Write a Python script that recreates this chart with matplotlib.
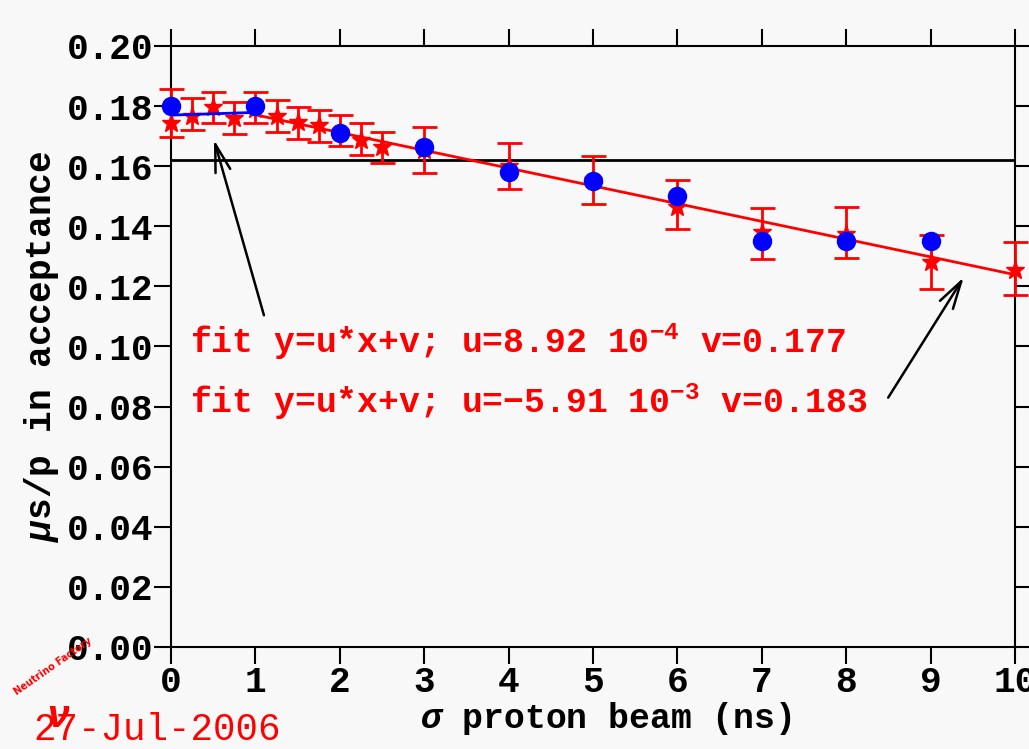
import matplotlib
matplotlib.use("Agg")
import matplotlib.pyplot as plt
import numpy as np

# blue points (circles)
blue_x = [0, 1, 2, 3, 4, 5, 6, 7, 8, 9]
blue_y = [0.180, 0.180, 0.171, 0.1665, 0.158, 0.155, 0.150, 0.135, 0.135, 0.135]

# red points (stars) with asymmetric errors
red_x = [0, 0.25, 0.5, 0.75, 1, 1.25, 1.5, 1.75, 2, 2.25, 2.5, 3, 4, 5, 6, 7, 8, 9, 10]
red_y = [0.1745, 0.1767, 0.1798, 0.1762, 0.1790, 0.1768, 0.1748, 0.1737, 0.1715,
         0.1687, 0.1665, 0.1655, 0.1600, 0.1554, 0.1465, 0.1380, 0.1375, 0.1282, 0.1255]
red_lo = [0.0048, 0.0047, 0.0055, 0.0055, 0.0047, 0.0053, 0.0056, 0.0055, 0.0049,
          0.0050, 0.0055, 0.0078, 0.0076, 0.0081, 0.0074, 0.0090, 0.0082, 0.0091, 0.0084]
red_hi = [0.0112, 0.0060, 0.0050, 0.0050, 0.0058, 0.0052, 0.0050, 0.0050, 0.0055,
          0.0056, 0.0050, 0.0077, 0.0078, 0.0080, 0.0089, 0.0080, 0.0088, 0.0088, 0.0093]

# fit parameters
u_blue, v_blue = 8.92e-4, 0.177
u_red, v_red = -5.91e-3, 0.183
ref_level = 0.162

x_ticks = list(range(0, 11))
y_ticks = [0.00, 0.02, 0.04, 0.06, 0.08, 0.10, 0.12, 0.14, 0.16, 0.18, 0.20]

bg = '#f8f8f8'
font = 'Liberation Mono'
plt.rcParams['mathtext.fontset'] = 'custom'
plt.rcParams['mathtext.rm'] = 'Liberation Mono:bold'
plt.rcParams['mathtext.it'] = 'Liberation Mono:italic:bold'
plt.rcParams['mathtext.bf'] = 'Liberation Mono:bold'

fig = plt.figure(figsize=(10.29, 7.49), dpi=100, facecolor=bg)
ax = fig.add_axes([0.1662, 0.1362, 0.8202, 0.8024], facecolor=bg)

# reference line
ax.plot([0, 10], [ref_level, ref_level], color='black', lw=2, zorder=2)

# red error bars + stars
ax.errorbar(red_x, red_y, yerr=[red_lo, red_hi], fmt='*', color='red', ms=14,
            ecolor='red', elinewidth=2, capsize=9, capthick=2, zorder=3, clip_on=False)

# fit lines
xb = np.linspace(0, 1, 10)
ax.plot(xb, u_blue * xb + v_blue, color='blue', lw=2, zorder=4)
xr = np.linspace(1, 10, 50)
ax.plot(xr, u_red * xr + v_red, color='red', lw=2, zorder=4)

# blue circles
ax.plot(blue_x, blue_y, 'o', color='blue', ms=13, zorder=5, clip_on=False)

ax.set_xlim(0, 10)
ax.set_ylim(0, 0.20)
ax.set_xticks(x_ticks)
ax.set_yticks(y_ticks)
ax.set_xticklabels([str(t) for t in x_ticks])
ax.set_yticklabels(['%.2f' % t for t in y_ticks])
ax.tick_params(direction='out', length=12, width=1.5, labelsize=26, pad=1,
               top=True, right=True)
for lab in ax.get_xticklabels() + ax.get_yticklabels():
    lab.set_fontfamily(font)
    lab.set_fontweight('bold')
for s in ax.spines.values():
    s.set_linewidth(1.5)

ax.set_ylabel(r'$\mu$s/p in acceptance', fontsize=26, fontfamily=font,
              fontweight='bold', labelpad=4)
ax.set_xlabel(r'$\sigma$ proton beam (ns)', fontsize=25, fontfamily=font,
              fontweight='bold', labelpad=0, x=0.515)

# fit annotations
ax.text(0.22, 0.1015, r'fit y=u*x+v; u=8.92 10$^{-4}$ v=0.177', color='red',
        fontsize=25, fontfamily=font, fontweight='bold', va='center')
ax.text(0.22, 0.0815, r'fit y=u*x+v; u=$-$5.91 10$^{-3}$ v=0.183', color='red',
        fontsize=25, fontfamily=font, fontweight='bold', va='center')

arrow = dict(arrowstyle='->,head_length=2.0,head_width=0.55', color='black', lw=1.8)
ax.annotate('', xy=(0.5, 0.1697), xytext=(1.11, 0.1095), arrowprops=arrow)
ax.annotate('', xy=(9.41, 0.1238), xytext=(8.48, 0.0822), arrowprops=arrow)

# date stamp and small logo
fig.text(0.032, 0.012, '27-Jul-2006', color='red', fontsize=27, fontfamily=font)
fig.text(0.012, 0.072, 'Neutrino Factory', color='red', fontsize=7, rotation=35,
         fontweight='bold')
fig.text(0.045, 0.03, r'$\nu$', color='red', fontsize=28)

fig.savefig('out.png', dpi=100, facecolor=bg)
